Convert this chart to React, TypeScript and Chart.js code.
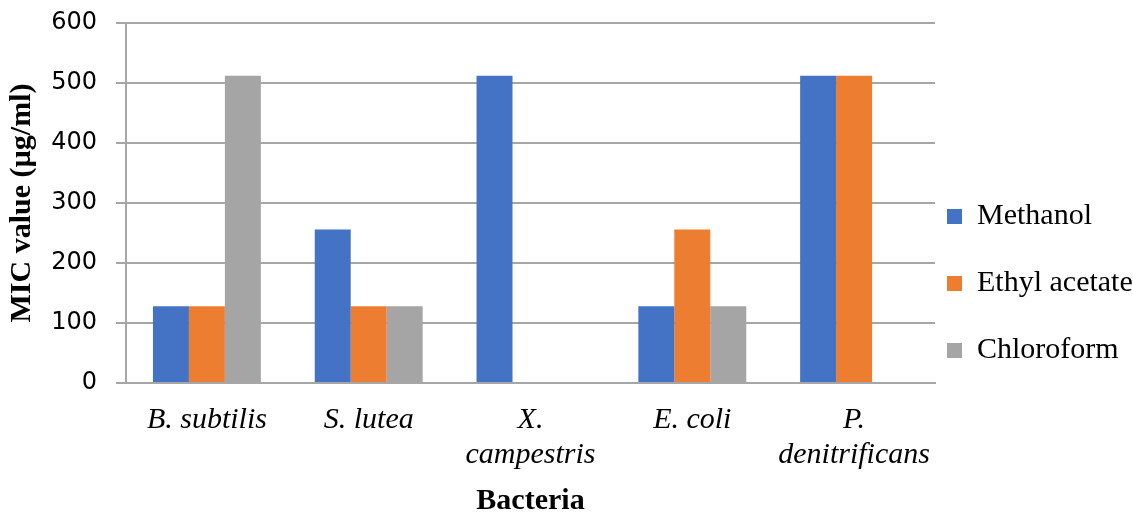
import React, { useEffect, useRef } from "react";
import { Chart, registerables } from "chart.js";

Chart.register(...registerables);

// Bacteria tested (multi-line entries wrap under the axis)
const bacteria: (string | string[])[] = [
  "B. subtilis",
  "S. lutea",
  ["X.", "campestris"],
  "E. coli",
  ["P.", "denitrificans"],
];

// MIC values (µg/ml) per extract
const methanol = [128, 256, 512, 128, 512];
const ethylAcetate = [128, 128, 0, 256, 512];
const chloroform = [512, 128, 0, 128, 0];

// Value axis range
const yMin = 0;
const yMax = 600;
const yStep = 100;

const gridColor = "#a6a6a6";
const serif = "'Liberation Serif', 'Times New Roman', serif";

// Pull the legend column a little closer to the plot area
const legendNudge = {
  id: "legendNudge",
  afterLayout(chart: any) {
    const lg = chart.legend;
    if (lg) {
      lg.left -= 25;
    }
  },
};

export default function App() {
  const canvasRef = useRef<HTMLCanvasElement | null>(null);

  useEffect(() => {
    if (!canvasRef.current) return;
    const chart = new Chart(canvasRef.current, {
      type: "bar",
      data: {
        labels: bacteria,
        datasets: [
          { label: "Methanol", data: methanol, backgroundColor: "#4472c4", borderColor: "#4472c4", borderWidth: 0 },
          { label: "Ethyl acetate", data: ethylAcetate, backgroundColor: "#ed7d31", borderColor: "#ed7d31", borderWidth: 0 },
          { label: "Chloroform", data: chloroform, backgroundColor: "#a5a5a5", borderColor: "#a5a5a5", borderWidth: 0 },
        ],
      },
      options: {
        responsive: false,
        animation: false,
        layout: { padding: { top: 23, left: 0, right: 0, bottom: 0 } },
        datasets: {
          bar: { categoryPercentage: 0.667, barPercentage: 1 },
        },
        plugins: {
          tooltip: { enabled: false },
          legend: {
            position: "right",
            align: "center",
            maxWidth: 198,
            title: {
              display: true,
              text: " ",
              font: { size: 10, lineHeight: 1 },
              padding: { top: 0, bottom: 22 },
            },
            labels: {
              boxWidth: 15,
              boxHeight: 15,
              padding: 37,
              color: "#000",
              font: { family: serif, size: 30 },
            },
          },
        },
        scales: {
          x: {
            grid: { display: false, drawTicks: false },
            border: { display: true, color: gridColor, width: 2 },
            ticks: {
              color: "#000",
              padding: 20,
              maxRotation: 0,
              autoSkip: false,
              font: { family: serif, size: 30, style: "italic", lineHeight: 1.15 },
            },
            title: {
              display: true,
              text: "Bacteria",
              color: "#000",
              padding: { top: 0, bottom: 0 },
              font: { family: serif, size: 30, weight: "bold", lineHeight: 0.7 },
            },
            afterFit(scale: any) {
              scale.height = 129;
            },
          },
          y: {
            min: yMin,
            max: yMax,
            ticks: {
              stepSize: yStep,
              color: "#000",
              padding: 19,
              font: { family: "'DejaVu Sans', sans-serif", size: 24 },
            },
            grid: { color: gridColor, lineWidth: 2, tickLength: 10, drawTicks: true },
            border: { display: true, color: gridColor, width: 2 },
            title: {
              display: true,
              text: "MIC value (µg/ml)",
              color: "#000",
              padding: { top: 4, bottom: 0 },
              font: { family: serif, size: 30, weight: "bold", lineHeight: 1.2 },
            },
            afterFit(scale: any) {
              scale.width = 126;
              scale.paddingTop = 0;
              scale.paddingBottom = 0;
            },
          },
        },
      },
      plugins: [legendNudge],
    });
    return () => chart.destroy();
  }, []);

  return (
    <div style={{ position: "absolute", left: 0, top: 0, width: 1133, height: 512, background: "#fff" }}>
      <canvas ref={canvasRef} width={1133} height={512} style={{ display: "block" }} />
    </div>
  );
}
